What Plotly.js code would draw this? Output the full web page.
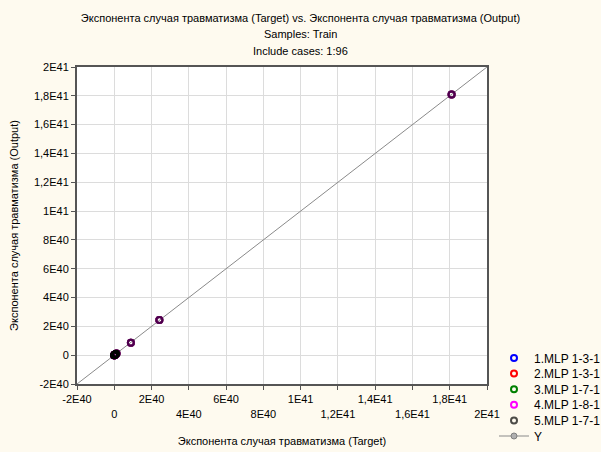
<!DOCTYPE html>
<html>
<head>
<meta charset="utf-8">
<script src="https://cdn.plot.ly/plotly-3.0.1.min.js"></script>
<style>html,body{margin:0;padding:0;background:#fefaef;}#chart{width:601px;height:452px;}</style>
</head>
<body>
<div id="chart"></div>
<script>
// Target values (x) and model outputs (y)
var target = [1.81e41, 2.42e40, 8.9e39, 1.2e39, 1.0e39, 8e38, 7e38, 6e38, 5e38, 4e38, 3e38, 2.5e38, 2e38, 1.5e38, 1e38, 5e37, 2e37, 1e37, 5e36, 1e36, 1e35];
var out1 = [1.81e41, 2.45e40, 8.6e39, 1.1e39, 1.0e39, 8e38, 7e38, 6e38, 5e38, 4e38, 3e38, 2.5e38, 2e38, 1.5e38, 1e38, 5e37, 2e37, 1e37, 5e36, 1e36, 1e35];
var out2 = [1.81e41, 2.45e40, 8.6e39, 1.1e39, 1.0e39, 8e38, 7e38, 6e38, 5e38, 4e38, 3e38, 2.5e38, 2e38, 1.5e38, 1e38, 5e37, 2e37, 1e37, 5e36, 1e36, 1e35];
var out3 = [1.81e41, 2.45e40, 8.6e39, 1.1e39, 1.0e39, 8e38, 7e38, 6e38, 5e38, 4e38, 3e38, 2.5e38, 2e38, 1.5e38, 1e38, 5e37, 2e37, 1e37, 5e36, 1e36, 1e35];
var out4 = [1.81e41, 2.45e40, 8.6e39, 1.1e39, 1.0e39, 8e38, 7e38, 6e38, 5e38, 4e38, 3e38, 2.5e38, 2e38, 1.5e38, 1e38, 5e37, 2e37, 1e37, 5e36, 1e36, 1e35];
var out5 = [1.81e41, 2.45e40, 8.6e39, 1.1e39, 1.0e39, 8e38, 7e38, 6e38, 5e38, 4e38, 3e38, 2.5e38, 2e38, 1.5e38, 1e38, 5e37, 2e37, 1e37, 5e36, 1e36, 1e35];
var seriesNames = ["1.MLP 1-3-1", "2.MLP 1-3-1", "3.MLP 1-7-1", "4.MLP 1-8-1", "5.MLP 1-7-1"];
var seriesColors = ["#0000ff", "#ff0000", "#008000", "#ff00ff", "rgba(0,0,0,0.7)"];
// identity line Y = X
var lineX = [-2.5e40, 2.5e41];
var lineY = [-2.5e40, 2.5e41];

var xTickVals = [-2e40, 0, 2e40, 4e40, 6e40, 8e40, 1e41, 1.2e41, 1.4e41, 1.6e41, 1.8e41, 2e41];
var xTickText = ["-2E40", "<br>0", "2E40", "<br>4E40", "6E40", "<br>8E40", "1E41", "<br>1,2E41", "1,4E41", "<br>1,6E41", "1,8E41", "<br>2E41"];
var yTickVals = [-2e40, 0, 2e40, 4e40, 6e40, 8e40, 1e41, 1.2e41, 1.4e41, 1.6e41, 1.8e41, 2e41];
var yTickText = ["-2E40", "0", "2E40", "4E40", "6E40", "8E40", "1E41", "1,2E41", "1,4E41", "1,6E41", "1,8E41", "2E41"];

var titleLines = ["Экспонента случая травматизма (Target) vs. Экспонента случая травматизма (Output)", "Samples: Train", "Include cases: 1:96"];

var FONT = "Liberation Sans, Arial, sans-serif";
var outs = [out1, out2, out3, out4, out5];
var legendPx = [358, 373.6, 389.2, 404.8, 420.4, 436];
var plotTop = 67, plotBottom = 384, plotLeft = 77, plotRight = 487;
function py(p){ return (plotBottom - p) / (plotBottom - plotTop); }
function px(p){ return (p - plotLeft) / (plotRight - plotLeft); }

var traces = [{
  x: lineX, y: lineY, type: 'scatter', mode: 'lines+markers', name: 'Y',
  line: {color: '#8a8a8a', width: 1},
  marker: {symbol: 'circle', size: 6, color: '#b0b0b0', line: {color: '#808080', width: 1}},
  cliponaxis: true, legend: 'legend6'
}];
for (var i = 0; i < 5; i++) {
  traces.push({
    x: target, y: outs[i], type: 'scatter', mode: 'markers', name: seriesNames[i],
    marker: {symbol: 'circle-open', size: 6, color: seriesColors[i], line: {color: seriesColors[i], width: 2}},
    legend: i === 0 ? 'legend' : 'legend' + (i + 1)
  });
}

var layout = {
  width: 601, height: 452,
  paper_bgcolor: '#fefaef', plot_bgcolor: '#ffffff',
  margin: {l: plotLeft, r: 601 - plotRight, t: plotTop, b: 452 - plotBottom, pad: 0, autoexpand: false},
  font: {family: FONT, size: 11, color: '#000'},
  title: {
    text: titleLines[0],
    font: {family: FONT, size: 11, color: '#000'},
    x: 0.5, xref: 'container', xanchor: 'center', y: 1 - 18 / 452, yref: 'container', yanchor: 'middle'
  },
  annotations: [
    {text: titleLines[1], xref: 'paper', yref: 'paper', x: px(300.5), y: py(34), xanchor: 'center', yanchor: 'middle', showarrow: false, font: {family: FONT, size: 11, color: '#000'}},
    {text: titleLines[2], xref: 'paper', yref: 'paper', x: px(300.5), y: py(51), xanchor: 'center', yanchor: 'middle', showarrow: false, font: {family: FONT, size: 11, color: '#000'}}
  ],
  xaxis: {
    range: [-2e40, 2e41], autorange: false, automargin: false,
    tickmode: 'array', tickvals: xTickVals, ticktext: xTickText, tickangle: 0,
    ticks: 'outside', ticklen: 4, tickcolor: '#555', tickwidth: 1,
    showline: true, linecolor: '#555', linewidth: 2, mirror: true,
    showgrid: true, gridcolor: '#dcdcdc', gridwidth: 1, zeroline: false,
    tickfont: {family: FONT, size: 11, color: '#000'},
    title: {text: 'Экспонента случая травматизма (Target)', font: {family: FONT, size: 11, color: '#000'}, standoff: 19}
  },
  yaxis: {
    range: [-2e40, 2e41], autorange: false, automargin: false,
    tickmode: 'array', tickvals: yTickVals, ticktext: yTickText,
    ticks: 'outside', ticklen: 4, tickcolor: '#555', tickwidth: 1,
    showline: true, linecolor: '#555', linewidth: 2, mirror: true,
    showgrid: true, gridcolor: '#dcdcdc', gridwidth: 1, zeroline: false,
    tickfont: {family: FONT, size: 11, color: '#000'},
    title: {text: 'Экспонента случая травматизма (Output)', font: {family: FONT, size: 11, color: '#000'}, standoff: 13}
  },
  showlegend: true
};
var legendNames = ['legend', 'legend2', 'legend3', 'legend4', 'legend5', 'legend6'];
for (var j = 0; j < 6; j++) {
  layout[legendNames[j]] = {
    x: px(494), xanchor: 'left', y: py(legendPx[j]), yanchor: 'middle',
    bgcolor: 'rgba(0,0,0,0)', borderwidth: 0,
    font: {family: FONT, size: 12, color: '#000'}
  };
}
Plotly.newPlot('chart', traces, layout, {displayModeBar: false, staticPlot: true});
</script>
</body>
</html>
